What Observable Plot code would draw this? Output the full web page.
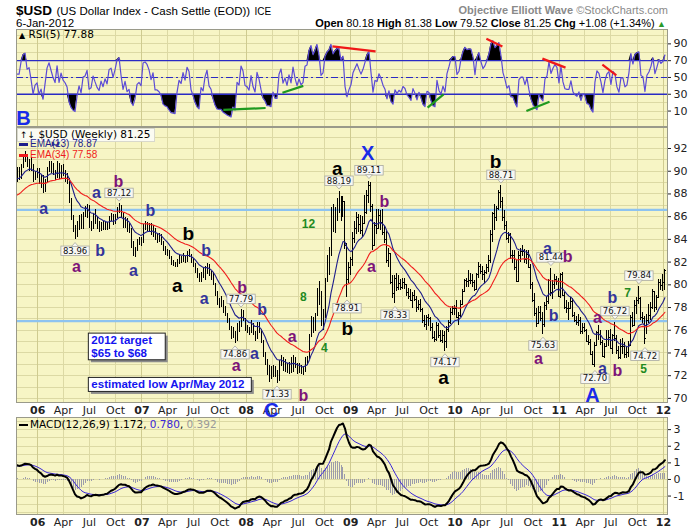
<!DOCTYPE html>
<html><head><meta charset="utf-8">
<script src="https://cdn.jsdelivr.net/npm/d3@7"></script>
<script src="https://cdn.jsdelivr.net/npm/@observablehq/plot@0.6"></script>
<style>
body{margin:0;background:#fff;}
#wrap{position:relative;width:700px;height:530px;overflow:hidden;background:#fff;font-family:"Liberation Sans",Arial,sans-serif;}
.abs{position:absolute;white-space:nowrap;}
.panel{position:absolute;left:0;}
.dash{display:inline-block;width:9px;height:2.5px;vertical-align:middle;margin-right:2px;}
</style></head><body><div id="wrap"></div>
<script>
// ---------------- DATA (weekly bars: [high, low, close]) ----------------
const firstWeek = "2005-10-21"; // Friday of first weekly bar
const usd2005 = [[90.3,89.0,89.6],[90.3,89.2,89.6],[90.6,89.3,90.4],[91.4,90.2,91.1],[91.7,90.8,91.3],[91.3,90.3,90.7],[91.0,90.0,90.8],[91.2,90.0,90.3],[90.6,89.0,89.3],[90.0,89.2,89.7],[90.2,89.4,89.8]];
const usd2006 = [
 [90.2,88.8,89.0],[89.6,88.5,89.2],[89.6,88.0,88.3],[89.3,88.1,89.0],
 [90.3,89.0,90.1],[90.9,89.9,90.6],[90.9,89.8,90.2],[90.7,89.6,89.8],
 [90.1,89.2,89.5],[90.9,89.4,90.6],[90.7,89.3,89.5],[90.5,89.3,90.2],[90.6,89.5,89.7],
 [90.1,89.0,89.5],[89.8,88.8,89.2],[89.4,87.2,87.4],[87.6,85.7,86.0],
 [86.1,84.6,84.9],[85.2,83.96,84.3],[85.6,84.2,85.2],[86.1,84.8,85.9],
 [86.2,84.9,85.0],[86.4,84.9,86.3],[86.9,85.9,86.4],[87.1,85.8,86.9],[87.0,85.0,85.1],
 [85.6,84.7,85.2],[86.2,84.9,86.1],[86.6,85.3,85.6],[86.0,84.9,85.1],
 [85.6,84.6,84.8],[85.5,84.7,85.3],[85.6,84.8,84.9],[85.6,84.8,85.3],
 [85.5,84.8,85.0],[86.0,84.9,85.8],[86.3,85.6,85.9],[86.2,85.2,85.5],[86.2,85.3,85.9],
 [86.8,85.8,86.6],[87.12,86.3,86.8],[87.0,85.9,86.1],[86.4,85.0,85.2],
 [85.9,85.0,85.6],[85.8,84.6,84.8],[85.4,84.5,84.9],[85.0,83.2,83.5],
 [83.8,82.5,82.8],[83.3,82.4,83.1],[84.0,82.9,83.8],[84.2,83.5,83.9],[84.2,83.4,83.7]];
const usd2007 = [
 [85.3,83.6,85.2],[85.6,84.8,85.3],[85.5,84.7,85.2],[85.4,84.6,85.0],
 [85.4,84.3,84.6],[85.2,84.2,84.9],[85.0,83.9,84.0],[84.5,83.6,84.0],
 [84.5,83.7,83.9],[84.4,83.5,83.7],[83.8,82.9,83.0],[83.4,82.6,82.8],[83.1,82.5,82.7],
 [83.0,82.2,82.3],[82.5,81.7,81.8],[82.1,81.6,81.7],[82.0,81.5,81.6],
 [82.2,81.5,82.0],[82.6,81.8,82.3],[82.5,81.9,82.2],[82.8,82.0,82.5],
 [82.5,81.9,82.3],[82.9,82.0,82.7],[83.1,82.4,82.6],[82.7,81.9,82.0],[82.3,81.5,81.7],
 [81.9,81.0,81.2],[81.4,80.6,80.7],[81.0,80.2,80.4],[81.1,80.2,81.0],
 [81.4,80.6,80.8],[81.6,80.4,81.3],[81.9,80.9,81.6],[81.8,80.7,80.9],[81.2,80.4,80.7],
 [81.1,79.9,80.0],[80.1,79.0,79.2],[79.4,78.2,78.4],[78.8,77.9,78.3],
 [79.0,78.0,78.3],[78.6,77.5,77.7],[78.1,77.2,77.3],[77.5,76.6,76.8],
 [77.0,76.0,76.2],[76.3,75.2,75.4],[76.2,75.3,75.7],[75.9,74.86,75.1],[76.6,75.0,76.3],
 [76.8,75.8,76.1],[77.79,76.2,77.5],[77.7,76.8,77.2],[77.0,75.9,76.1]];
const usd2008 = [
 [76.4,75.7,76.0],[76.2,75.5,75.7],[76.9,75.7,76.5],[76.6,75.5,75.7],
 [75.9,75.0,75.2],[76.7,75.2,76.5],[76.7,75.7,76.0],[76.1,74.8,75.0],[75.1,73.6,73.8],
 [74.0,72.9,73.3],[73.4,72.0,72.2],[72.9,71.4,72.2],[72.8,71.7,72.0],
 [72.9,71.8,72.6],[72.8,71.8,71.9],[72.5,71.33,71.9],[73.3,71.5,73.1],
 [73.8,72.8,73.5],[73.6,72.4,72.6],[73.4,72.3,72.9],[73.1,72.2,72.4],[73.2,72.1,73.0],
 [73.6,72.2,72.5],[73.8,72.3,73.6],[73.6,72.6,72.9],[73.1,72.1,72.3],
 [73.1,72.2,72.7],[72.9,72.1,72.3],[72.8,72.0,72.4],[73.6,72.3,73.4],
 [73.7,72.9,73.5],[75.6,73.4,75.3],[77.2,75.4,76.8],[77.1,75.7,76.3],[77.5,75.9,77.3],
 [79.7,77.2,79.4],[80.3,78.2,78.7],[79.4,76.3,76.8],[77.8,76.0,77.1],
 [80.6,77.0,80.3],[82.6,80.2,81.8],[83.3,80.8,82.7],[86.8,82.5,86.0],[87.1,84.6,85.0],
 [86.8,84.5,86.3],[87.6,85.6,87.3],[88.19,86.3,87.4],[87.8,85.6,86.5],
 [87.8,85.9,87.3],[87.3,83.1,83.5],[83.6,78.91,80.5],[82.0,80.1,81.5]];
const usd2009 = [
 [82.4,80.8,82.2],[84.6,81.6,84.1],[85.6,83.6,85.0],[86.4,84.4,85.9],[86.2,84.6,85.3],
 [86.1,84.4,84.8],[86.0,84.2,85.4],[87.9,85.3,86.4],[88.3,86.2,87.9],
 [89.11,87.2,88.7],[89.0,86.4,86.9],[87.1,83.0,83.5],[85.5,83.4,85.2],
 [86.6,84.4,85.0],[86.6,84.9,86.1],[86.5,84.8,85.5],[86.6,84.3,84.6],
 [85.1,83.6,84.0],[84.7,81.9,82.1],[83.2,81.5,82.8],[82.8,80.0,80.2],[80.8,78.8,79.2],
 [80.8,78.33,80.6],[81.0,79.4,79.8],[80.8,79.5,80.1],[80.5,79.5,79.8],
 [80.6,79.6,80.2],[80.6,79.6,80.0],[80.0,79.0,79.3],[79.7,78.7,79.0],[79.6,78.5,78.6],
 [79.3,77.9,79.1],[79.5,78.5,78.7],[79.0,77.6,78.0],[78.6,77.7,78.3],
 [78.7,77.6,77.8],[77.9,76.6,76.9],[77.3,76.2,76.5],[77.3,76.0,77.1],
 [77.4,76.3,77.0],[77.1,75.9,76.2],[76.6,75.2,75.4],[75.9,74.9,75.2],[76.7,75.0,76.4],
 [76.6,75.3,75.5],[76.0,74.9,75.1],[76.0,74.8,75.5],[75.9,74.17,75.0],
 [76.3,74.4,76.1],[76.9,75.8,76.7],[77.9,76.5,77.6],[78.1,77.3,77.9]];
const usd2010 = [
 [78.2,77.3,77.9],[78.6,77.0,77.1],[77.6,76.4,77.3],[78.6,77.1,78.3],[79.6,78.2,79.4],
 [80.5,79.3,80.4],[80.6,79.8,80.3],[81.3,79.8,80.4],[81.0,80.0,80.4],
 [80.9,79.8,80.2],[80.4,79.4,79.6],[81.0,79.5,80.9],[82.0,80.6,81.6],
 [81.8,80.9,81.2],[81.6,80.4,80.9],[81.3,80.1,81.1],[81.8,80.9,81.5],[82.6,81.1,82.1],
 [84.8,81.9,84.4],[86.4,83.7,86.3],[87.1,84.8,85.9],[86.9,85.6,86.7],
 [88.3,86.5,88.1],[88.71,86.7,87.3],[87.7,85.6,85.9],[86.5,84.8,85.2],
 [85.6,83.9,84.1],[84.6,83.6,84.3],[84.5,82.2,82.6],[83.0,81.9,82.6],[83.0,81.3,81.5],
 [82.1,80.2,80.3],[82.9,80.2,82.6],[83.2,82.0,82.9],[83.5,82.5,82.9],
 [83.1,81.9,82.2],[83.0,81.8,82.7],[83.0,81.4,81.5],[81.8,79.6,80.0],
 [80.2,78.4,78.6],[79.2,77.2,77.5],[77.9,76.2,76.6],[78.1,76.5,77.6],[78.1,76.8,77.0],
 [77.6,75.63,76.5],[78.4,76.2,78.2],[79.0,77.7,78.5],[80.5,78.3,80.4],
 [81.44,79.0,79.3],[80.4,78.7,80.0],[80.9,79.6,80.5],[80.7,79.9,80.3],[80.6,78.9,79.0]];
const usd2011 = [
 [81.0,78.8,80.9],[81.1,79.0,79.1],[79.3,77.8,78.0],[78.6,77.5,77.9],
 [78.4,76.9,77.9],[78.9,77.8,78.5],[78.8,77.1,77.3],[77.6,76.7,76.9],
 [77.2,76.4,76.7],[77.4,76.3,76.9],[77.1,75.6,75.9],[76.6,75.6,76.2],
 [76.6,75.8,76.0],[76.1,74.9,75.0],[75.5,74.7,74.9],[75.2,73.8,73.9],[74.1,72.9,73.0],
 [74.9,72.70,74.7],[75.9,74.6,75.8],[76.4,75.1,75.6],[76.0,74.7,74.9],
 [75.1,73.6,73.7],[74.8,73.5,74.6],[76.0,74.5,75.2],[76.0,74.6,75.4],
 [76.1,74.3,74.4],[75.6,73.9,75.5],[76.72,75.0,75.3],[75.5,73.9,74.2],[74.6,73.4,73.6],
 [75.2,73.4,74.6],[75.3,73.9,74.6],[74.9,73.5,73.9],[74.5,73.5,74.0],
 [75.0,73.6,74.7],[77.3,74.6,77.1],[77.6,76.2,76.4],[78.6,76.3,78.2],[78.9,77.4,78.6],
 [79.84,78.3,78.8],[78.9,76.9,77.1],[77.6,76.6,77.0],[77.2,74.72,75.3],
 [77.4,75.6,76.9],[78.3,76.6,77.3],[78.4,76.9,78.0],[79.6,77.8,79.4],
 [79.4,77.6,78.0],[79.1,77.7,78.9],[80.5,78.8,80.2],[80.5,79.5,79.9],[80.9,79.4,80.2]];
const usd2012 = [[81.38,79.52,81.25]];

const seeds = {prevClose: 89.8, avgGain: 0.35, avgLoss: 0.25, ema13: 89.3, ema34: 87.8, ema12: 89.3, ema26: 88.4, signal: 0.8};

// horizontal reference levels (light blue)
const levels = [86.6, 76.8];

// x-axis ticks (quarterly)
const tickStart = "2006-01-01", tickEnd = "2012-01-01";

// Elliott-wave labels
const waveLabels = [
 {date:"2005-11-12", price:94.64, label:"B", kind:"primary"},
 {date:"2006-03-04", price:92.70, label:"b", kind:"minor"},
 {date:"2006-01-22", price:86.72, label:"a", kind:"minor"},
 {date:"2006-07-26", price:88.13, label:"a", kind:"minor"},
 {date:"2006-10-11", price:89.10, label:"b", kind:"minute"},
 {date:"2006-05-17", price:81.61, label:"a", kind:"minute"},
 {date:"2006-08-08", price:83.02, label:"b", kind:"minor"},
 {date:"2007-01-31", price:86.54, label:"b", kind:"minor"},
 {date:"2006-12-02", price:81.26, label:"a", kind:"minor"},
 {date:"2007-06-12", price:84.52, label:"b", kind:"intermediate"},
 {date:"2007-08-14", price:83.02, label:"b", kind:"minor"},
 {date:"2007-05-05", price:79.94, label:"a", kind:"intermediate"},
 {date:"2007-08-07", price:78.80, label:"a", kind:"minor"},
 {date:"2007-12-18", price:79.76, label:"b", kind:"minute"},
 {date:"2008-02-26", price:77.83, label:"b", kind:"minor"},
 {date:"2008-01-30", price:73.95, label:"a", kind:"minor"},
 {date:"2007-11-27", price:72.90, label:"a", kind:"minute"},
 {date:"2008-06-10", price:75.45, label:"a", kind:"minute"},
 {date:"2008-07-19", price:78.88, label:"8", kind:"count"},
 {date:"2008-10-01", price:74.39, label:"4", kind:"count"},
 {date:"2008-08-06", price:85.31, label:"12", kind:"count"},
 {date:"2008-11-15", price:90.24, label:"a", kind:"intermediate"},
 {date:"2008-12-20", price:76.15, label:"b", kind:"intermediate"},
 {date:"2008-07-19", price:70.26, label:"b", kind:"minute"},
 {date:"2008-03-30", price:68.94, label:"C", kind:"primary"},
 {date:"2009-03-01", price:91.56, label:"X", kind:"primary"},
 {date:"2009-04-29", price:87.33, label:"b", kind:"minute"},
 {date:"2009-03-15", price:81.61, label:"a", kind:"minute"},
 {date:"2009-11-22", price:71.84, label:"a", kind:"intermediate"},
 {date:"2010-05-23", price:90.86, label:"b", kind:"intermediate"},
 {date:"2010-11-21", price:83.20, label:"a", kind:"minor"},
 {date:"2011-01-30", price:82.49, label:"b", kind:"minute"},
 {date:"2010-10-20", price:73.51, label:"a", kind:"minute"},
 {date:"2010-12-12", price:77.30, label:"b", kind:"minor"},
 {date:"2011-05-15", price:77.12, label:"a", kind:"minute"},
 {date:"2011-07-06", price:78.88, label:"b", kind:"minor"},
 {date:"2011-08-28", price:79.24, label:"7", kind:"count"},
 {date:"2011-10-23", price:72.55, label:"5", kind:"count"},
 {date:"2011-06-01", price:72.64, label:"a", kind:"minor"},
 {date:"2011-07-24", price:72.46, label:"b", kind:"minute"},
 {date:"2011-04-27", price:70.26, label:"A", kind:"primary"}
];

// swing price labels
const priceLabels = [
 {date:"2006-05-12", value:83.96, kind:"low"},
 {date:"2006-10-13", value:87.12, kind:"high"},
 {date:"2007-11-23", value:74.86, kind:"low"},
 {date:"2007-12-14", value:77.79, kind:"high"},
 {date:"2008-04-18", value:71.33, kind:"low"},
 {date:"2008-11-21", value:88.19, kind:"high"},
 {date:"2008-12-19", value:78.91, kind:"low"},
 {date:"2009-03-06", value:89.11, kind:"high"},
 {date:"2009-06-05", value:78.33, kind:"low"},
 {date:"2009-11-27", value:74.17, kind:"low"},
 {date:"2010-06-11", value:88.71, kind:"high"},
 {date:"2010-11-05", value:75.63, kind:"low"},
 {date:"2010-12-03", value:81.44, kind:"high"},
 {date:"2011-05-06", value:72.70, kind:"low"},
 {date:"2011-07-15", value:76.72, kind:"high"},
 {date:"2011-10-07", value:79.84, kind:"high"},
 {date:"2011-10-28", value:74.72, kind:"low"}
];

// boxed notes
const notes = [
 {date:"2006-07-08", price:75.57, text:"2012 target\n$65 to $68"},
 {date:"2006-07-08", price:71.67, text:"estimated low Apr/May 2012"}
];

// RSI trendlines
const rsiTrends = [
 {from:"2007-10-13", to:"2008-03-09", r1:11.3, r2:13.6, kind:"bull"},
 {from:"2008-05-07", to:"2008-07-19", r1:31.7, r2:40.0, kind:"bull"},
 {from:"2008-10-29", to:"2009-03-29", r1:86.9, r2:81.0, kind:"bear"},
 {from:"2009-09-27", to:"2009-11-22", r1:14.0, r2:29.8, kind:"bull"},
 {from:"2010-04-21", to:"2010-06-16", r1:96.0, r2:86.9, kind:"bear"},
 {from:"2010-09-08", to:"2010-11-28", r1:10.1, r2:21.1, kind:"bull"},
 {from:"2010-11-03", to:"2011-01-23", r1:72.4, r2:61.7, kind:"bear"},
 {from:"2011-06-01", to:"2011-07-20", r1:65.3, r2:52.6, kind:"bear"}
];

// ---------------- BUILD ----------------
const ohlc = [...usd2005, ...usd2006, ...usd2007, ...usd2008, ...usd2009, ...usd2010, ...usd2011, ...usd2012];
const t0 = new Date(firstWeek).getTime();
const bars = ohlc.map(([h,l,c],i)=>({date:new Date(t0 + i*7*864e5), high:h, low:l, close:c}));
const closes = bars.map(d=>d.close);
function ema(vals, n, seed){ const k = 2/(n+1); let e = seed; return vals.map(v => (e = e + k*(v-e))); }
const ema13 = ema(closes, 13, seeds.ema13), ema34 = ema(closes, 34, seeds.ema34);
const e12 = ema(closes, 12, seeds.ema12), e26 = ema(closes, 26, seeds.ema26);
const macd = e12.map((v,i)=>v - e26[i]);
const signal = ema(macd, 9, seeds.signal);
let ag = seeds.avgGain, al = seeds.avgLoss, prev = seeds.prevClose;
const rsi = closes.map(c => { const ch = c - prev; prev = c; ag = (ag*4 + Math.max(ch,0))/5; al = (al*4 + Math.max(-ch,0))/5; return 100 - 100/(1 + ag/al); });
const ind = bars.map((d,i)=>({date:d.date, rsi:rsi[i], macd:macd[i], signal:signal[i], hist:macd[i]-signal[i]}));

const xDomain = [new Date("2005-10-19"), new Date("2012-01-15")];
const qTicks = d3.utcMonth.every(3).range(new Date(tickStart), new Date(new Date(tickEnd).getTime()+864e5));
const yearTicks = qTicks.filter(d=>d.getUTCMonth()===0);
const fmtTick = d => d.getUTCMonth()===0 ? d3.utcFormat("%y")(d) : d3.utcFormat("%b")(d);

const BG = "#f7f5c5", GRID = "#dcd9a4", GRIDY = "#cfcb90", FRAME = "#9a9a8a";
const axisStyle = {background:"transparent", fontFamily:"DejaVu Sans, Verdana, sans-serif", fontSize:"11px", color:"#222", overflow:"visible"};

const waveKinds = {
  primary: {fill:"#1a2be8", size:20},
  intermediate: {fill:"#000000", size:19},
  minor: {fill:"#33349b", size:16},
  minute: {fill:"#7d1479", size:16},
  count: {fill:"#1f8a1f", size:12}
};
const LBLFONT = "Liberation Sans, Arial, sans-serif";

// ---- RSI panel
const rsiPlot = Plot.plot({
  width:700, height:97, marginLeft:16, marginRight:33, marginTop:0, marginBottom:0,
  style: axisStyle,
  x: {type:"utc", domain:xDomain, axis:null},
  y: {domain:[-8.4,107.1], axis:"right", ticks:[10,30,50,70,90], tickSize:3, tickPadding:3, tickFormat:d=>String(d), label:null},
  marks: [
    Plot.frame({fill:BG}),
    Plot.ruleY(d3.range(0,101,10), {stroke:GRID, shapeRendering:"crispEdges"}),
    Plot.ruleX(qTicks, {stroke:GRID, shapeRendering:"crispEdges"}),
    Plot.ruleX(yearTicks, {stroke:GRIDY, shapeRendering:"crispEdges"}),
    Plot.areaY(ind, {x:"date", y1:70, y2:d=>Math.max(70,d.rsi), fill:"#000"}),
    Plot.areaY(ind, {x:"date", y1:30, y2:d=>Math.min(30,d.rsi), fill:"#000"}),
    Plot.ruleY([70,30], {stroke:"#2a2ac4", strokeWidth:1.3}),
    Plot.ruleY([50], {stroke:"#2a2ac4", strokeWidth:1.1, strokeDasharray:"7,3,2,3"}),
    Plot.line(ind, {x:"date", y:"rsi", stroke:"#5b4bd6", strokeWidth:1.2}),
    Plot.link(rsiTrends.filter(d=>d.kind==="bull"), {x1:d=>new Date(d.from), x2:d=>new Date(d.to), y1:"r1", y2:"r2", stroke:"#1f9a1f", strokeWidth:2.2}),
    Plot.link(rsiTrends.filter(d=>d.kind==="bear"), {x1:d=>new Date(d.from), x2:d=>new Date(d.to), y1:"r1", y2:"r2", stroke:"#f01818", strokeWidth:2.2}),
    Plot.frame({stroke:FRAME})
  ]
});

// ---- Price panel
const waveMarks = Object.entries(waveKinds).map(([k,s]) =>
  Plot.text(waveLabels.filter(d=>d.kind===k), {x:d=>new Date(d.date), y:"price", text:"label", fill:s.fill, fontSize:s.size, fontWeight:"bold", fontFamily:LBLFONT}));
const pxMap = new Map(priceLabels.map(d=>[d.value.toFixed(2), d.kind]));
const mainPlot = Plot.plot({
  width:700, height:291, marginLeft:16, marginRight:33, marginTop:0, marginBottom:16,
  style: axisStyle,
  x: {type:"utc", domain:xDomain, ticks:qTicks, tickFormat:fmtTick, tickSize:0, tickPadding:4, label:null},
  y: {domain:[69.64,93.85], axis:"right", ticks:d3.range(70,93,2), tickSize:3, tickPadding:3, tickFormat:d=>String(d), label:null},
  marks: [
    Plot.frame({fill:BG}),
    Plot.ruleY(d3.range(70,94,1), {stroke:GRID, shapeRendering:"crispEdges"}),
    Plot.ruleX(qTicks, {stroke:GRID, shapeRendering:"crispEdges"}),
    Plot.ruleX(yearTicks, {stroke:GRIDY, shapeRendering:"crispEdges"}),
    Plot.ruleY(levels, {stroke:"#8ec3f0", strokeWidth:2.4}),
    Plot.ruleX(bars, {x:"date", y1:"low", y2:"high", stroke:"#000", strokeWidth:1, shapeRendering:"crispEdges"}),
    Plot.link(bars, {x1:"date", x2:d=>new Date(+d.date + 4*864e5), y1:"close", y2:"close", stroke:"#000", strokeWidth:1, shapeRendering:"crispEdges"}),
    Plot.line(bars, {x:"date", y:(d,i)=>ema13[i], stroke:"#1e1e8c", strokeWidth:1.1}),
    Plot.line(bars, {x:"date", y:(d,i)=>ema34[i], stroke:"#f01c1c", strokeWidth:1.1}),
    Plot.text(priceLabels.filter(d=>d.kind==="high"), {x:d=>new Date(d.date), y:"value", text:d=>d.value.toFixed(2), dy:-11, fontSize:8.5, fontFamily:"DejaVu Sans, Verdana, sans-serif", fill:"#111"}),
    Plot.text(priceLabels.filter(d=>d.kind==="low"), {x:d=>new Date(d.date), y:"value", text:d=>d.value.toFixed(2), dy:11, fontSize:8.5, fontFamily:"DejaVu Sans, Verdana, sans-serif", fill:"#111"}),
    ...waveMarks,
    Plot.text(notes, {x:d=>new Date(d.date), y:"price", text:"text", textAnchor:"start", lineAnchor:"top", lineHeight:1.1, fill:"#1414f0", fontSize:11.5, fontWeight:"bold", fontFamily:LBLFONT}),
    Plot.frame({stroke:FRAME})
  ]
});

// ---- MACD panel
const macdPlot = Plot.plot({
  width:700, height:113, marginLeft:16, marginRight:33, marginTop:0, marginBottom:16,
  style: axisStyle,
  x: {type:"utc", domain:xDomain, ticks:qTicks, tickFormat:fmtTick, tickSize:0, tickPadding:4, label:null},
  y: {domain:[-2.11,3.73], axis:"right", ticks:[-1,0,1,2,3], tickSize:3, tickPadding:3, tickFormat:d=>String(d), label:null},
  marks: [
    Plot.frame({fill:BG}),
    Plot.ruleY(d3.range(-2,3.6,0.5), {stroke:GRID, shapeRendering:"crispEdges"}),
    Plot.ruleX(qTicks, {stroke:GRID, shapeRendering:"crispEdges"}),
    Plot.ruleX(yearTicks, {stroke:GRIDY, shapeRendering:"crispEdges"}),
    Plot.ruleX(ind, {x:"date", y1:0, y2:"hist", stroke:"#9c9cab", strokeWidth:1, shapeRendering:"crispEdges"}),
    Plot.line(ind, {x:"date", y:"signal", stroke:"#3a26d8", strokeWidth:1}),
    Plot.line(ind, {x:"date", y:"macd", stroke:"#000", strokeWidth:2}),
    Plot.frame({stroke:FRAME})
  ]
});

const wrap = document.getElementById("wrap");
function place(svg, top){ svg.classList.add("panel"); svg.style.position="absolute"; svg.style.left="0px"; svg.style.top=top+"px"; wrap.appendChild(svg); }
place(rsiPlot, 29);
place(mainPlot, 127);
place(macdPlot, 417);

// decorate: bold year ticks, boxes round price labels and notes
const NS = "http://www.w3.org/2000/svg";
function decorate(svg){
  svg.querySelectorAll("text").forEach(t => {
    const s = t.textContent;
    const inX = t.closest('[aria-label^="x-axis"]');
    if (inX) { if (/^\d\d$/.test(s)) t.setAttribute("font-weight","bold"); return; }
    const tr = t.getAttribute("transform");
    const mk = (tag, attrs) => { const e = document.createElementNS(NS, tag); for (const k in attrs) e.setAttribute(k, attrs[k]); if (tr) e.setAttribute("transform", tr); t.parentNode.insertBefore(e, t); return e; };
    if (pxMap.has(s)) {
      const bb = t.getBBox();
      const x0 = bb.x-2, w = bb.width+4, y0 = bb.y+0.5, h = bb.height-0.5, cx = bb.x+bb.width/2;
      mk("rect", {x:x0, y:y0, width:w, height:h, fill:"#f7f7f3", stroke:"#a9a9a0", "stroke-width":0.8});
      if (pxMap.get(s)==="high") { const b = y0+h; mk("path", {d:`M${cx-3.5},${b-0.4}L${cx+3.5},${b-0.4}L${cx},${b+3.5}Z`, fill:"#f7f7f3", stroke:"#a9a9a0", "stroke-width":0.8}); }
      else { const b = y0; mk("path", {d:`M${cx-3.5},${b+0.4}L${cx+3.5},${b+0.4}L${cx},${b-3.5}Z`, fill:"#f7f7f3", stroke:"#a9a9a0", "stroke-width":0.8}); }
    } else if (s.startsWith("2012 target") || s.startsWith("estimated")) {
      const bb = t.getBBox();
      const extra = s.startsWith("2012") ? 13 : 7;
      const x0 = bb.x-3, w = bb.width+3+extra, y0 = bb.y-1, h = bb.height+2;
      mk("rect", {x:x0+2.5, y:y0+2.5, width:w, height:h, fill:"#8c8c8c"});
      mk("rect", {x:x0, y:y0, width:w, height:h, fill:"#fff", stroke:"#222", "stroke-width":1});
    }
  });
}
decorate(mainPlot);
decorate(macdPlot);

// ---- HTML text overlays
const html = `
<div class="abs" style="left:16px;top:2px;line-height:16px;color:#000"><span style="font-size:13.5px;font-weight:bold">$USD</span> <span style="font-size:11.5px">(US Dollar Index - Cash Settle (EOD))</span> <span style="font-size:10px">ICE</span></div>
<div class="abs" style="left:16px;top:16px;line-height:14px;font-size:11.5px;color:#000">6-Jan-2012</div>
<div class="abs" style="right:34px;top:16px;line-height:14px;font-size:11px;color:#000"><b>Open</b> 80.18 <b>High</b> 81.38 <b>Low</b> 79.52 <b>Close</b> 81.25 <b>Chg</b> +1.08 (+1.34%)<span style="color:#2a9a2a;font-size:9px"> ▲</span></div>
<div class="abs" style="right:32px;top:3px;line-height:14px;font-size:11px;color:#8a8a8a"><b>Objective Elliott Wave</b> ©StockCharts.com</div>
<div class="abs" style="left:19px;top:28px;line-height:12px;font-family:'DejaVu Sans',Verdana;font-size:10.5px;color:#000"><span style="font-size:8px">▲</span> RSI(5) 77.88</div>
<div class="abs" style="left:17px;top:128px;line-height:11px;font-family:'DejaVu Sans',Verdana;font-size:10.5px;color:#000;background:#fbfbf2;border:1px solid #d8d8cc;padding:0 4px 0 2px"><span style="font-size:9px">↑↓</span> $USD (Weekly) 81.25</div>
<div class="abs" style="left:19px;top:138px;line-height:12px;font-size:10px;color:#1e1e8c"><span class="dash" style="background:#1e1e8c"></span>EMA(13) 78.87</div>
<div class="abs" style="left:19px;top:149px;line-height:12px;font-size:10px;color:#f01c1c"><span class="dash" style="background:#f01c1c"></span>EMA(34) 77.58</div>
<div class="abs" style="left:19px;top:418px;line-height:12px;font-family:'DejaVu Sans',Verdana;font-size:10.5px;color:#000"><span class="dash" style="background:#000"></span>MACD(12,26,9) 1.172, <span style="color:#3a26d8">0.780</span>, <span style="color:#9a9a9a">0.392</span></div>
`;
wrap.insertAdjacentHTML("beforeend", html);
</script>
</body></html>
